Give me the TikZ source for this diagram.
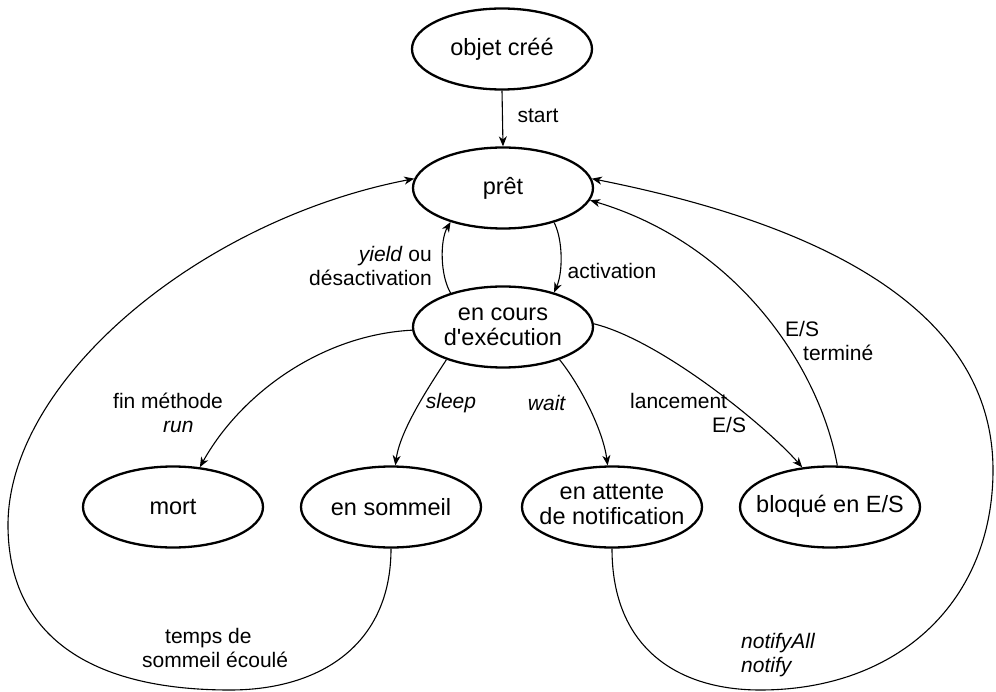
\documentclass[tikz,border=0pt]{standalone}
\usepackage{fontspec}
\setmainfont{Liberation Sans}
\usetikzlibrary{shapes.geometric,arrows.meta}
\newcommand{\fixw}[1]{\makebox[0pt]{\begin{tabular}{@{}c@{}}#1\end{tabular}}}
\begin{document}
\begin{tikzpicture}[x=1pt,y=-1pt,
  state/.style={ellipse,draw,line width=2.3pt,minimum width=180pt,minimum height=81pt,inner sep=0pt,align=center,font=\fontsize{23.5}{25}\selectfont},
  trans/.style={line width=1.1pt,-{Stealth[length=10pt,width=8pt,inset=3pt]}},
  lbl/.style={font=\fontsize{21}{23.5}\selectfont,inner sep=0pt}]
\useasboundingbox (0,0) rectangle (996,692);
% states
\node[state] (objet) at (502,49) {objet créé};
\node[state] (pret) at (503,188) {prêt};
\node[state] (cours) at (503,327) {en cours\\d\textquotesingle exécution};
\node[state] (mort) at (173,507) {mort};
\node[state] (sommeil) at (391,507) {en sommeil};
\node[state] (attente) at (612,507) {\fixw{en attente\\de notification}};
\node[state] (bloq) at (830,507) {\fixw{bloqué en E/S}};
% transitions
\draw[trans] (objet.south) -- (pret.north);
\draw[trans] (cours.147) .. controls (440,275) and (440,240) .. (pret.213);
\draw[trans] (pret.326) .. controls (563,240) and (563,272) .. (cours.34);
\draw[trans] (cours.182) .. controls (320,335) and (240,395) .. (mort.56);
\draw[trans] (cours.210) .. controls (430,385) and (400,430) .. (sommeil.84);
\draw[trans] (cours.330) .. controls (580,385) and (603,430) .. (attente.96);
\draw[trans] (cours.2) .. controls (660,340) and (765,425) .. (bloq.125);
\draw[trans] (bloq.80) .. controls (820,370) and (740,245) .. (pret.-8);
\draw[trans] (sommeil.south) .. controls (391,645) and (320,690) .. (230,690)
   .. controls (70,690) and (8,620) .. (8,525)
   .. controls (8,380) and (200,220) .. (pret.174);
\draw[trans] (attente.south) .. controls (612,650) and (680,690) .. (760,690)
   .. controls (900,690) and (993,600) .. (993,470)
   .. controls (993,300) and (800,220) .. (pret.6);
% labels
\node[lbl] (lstart) at (538,116) {start};
\node[lbl] (lact) at (612,271) {activation};
\node[lbl,anchor=east,align=right] (lyield) at (432,266) {\textit{yield} ou\\désactivation};
\node[lbl,anchor=west,align=left] (lfin) at (113,413) {fin méthode\\\hspace*{50pt}\textit{run}};
\node[lbl] (lsleep) at (451,403) {\textit{sleep}};
\node[lbl] (lwait) at (547,403) {\textit{wait}};
\node[lbl,anchor=west,align=left] (llanc) at (630,413) {lancement\\\hspace*{82pt}E/S};
\node[lbl,anchor=west,align=left] (lterm) at (785,341) {E/S\\\hspace*{18pt}terminé};
\node[lbl,anchor=west,align=left] (ltemps) at (142,648) {\hspace*{23pt}temps de\\sommeil écoulé};
\node[lbl,anchor=west,align=left] (lnotif) at (741,655) {\textit{notifyAll}\\\textit{notify}};
\end{tikzpicture}
\end{document}
